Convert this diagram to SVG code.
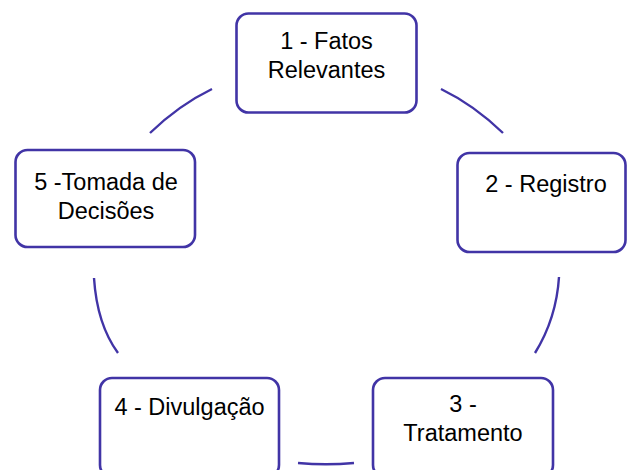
<svg xmlns="http://www.w3.org/2000/svg" width="627" height="470" viewBox="0 0 627 470">
  <style>
    .box { fill: #ffffff; stroke: #4134a6; stroke-width: 2.6; }
    .arc { fill: none; stroke: #4134a6; stroke-width: 2.4; stroke-linecap: butt; }
    .lbl { font-family: "Liberation Sans", Arial, sans-serif; font-size: 23.5px; fill: #000000; text-anchor: middle; }
  </style>
  <rect width="627" height="470" fill="#ffffff"/>
  <g id="connectors">
    <path class="arc" d="M150,133 Q179,105 212,89"/>
    <path class="arc" d="M441,89 Q474,105 503,133"/>
    <path class="arc" d="M559,277 Q556.4,318.4 535,353"/>
    <path class="arc" d="M354,463 Q326,465.5 298,463"/>
    <path class="arc" d="M118,353 Q97,324.3 94,278"/>
  </g>
  <g id="node1">
    <rect class="box" x="236.5" y="13.5" width="180" height="99" rx="12"/>
    <text class="lbl" x="326.5" y="49">1 - Fatos</text>
    <text class="lbl" x="326.5" y="78">Relevantes</text>
  </g>
  <g id="node2">
    <rect class="box" x="457.5" y="153" width="168" height="99" rx="12"/>
    <text class="lbl" x="546" y="192">2 - Registro</text>
  </g>
  <g id="node3">
    <rect class="box" x="373" y="378" width="180" height="99" rx="12"/>
    <text class="lbl" x="463" y="411.5">3 -</text>
    <text class="lbl" x="463" y="441">Tratamento</text>
  </g>
  <g id="node4">
    <rect class="box" x="100" y="378" width="179" height="99" rx="12"/>
    <text class="lbl" x="189.5" y="415">4 - Divulgação</text>
  </g>
  <g id="node5">
    <rect class="box" x="15.5" y="150" width="179.5" height="97" rx="12"/>
    <text class="lbl" x="106" y="190">5 -Tomada de</text>
    <text class="lbl" x="106" y="219">Decisões</text>
  </g>
</svg>
